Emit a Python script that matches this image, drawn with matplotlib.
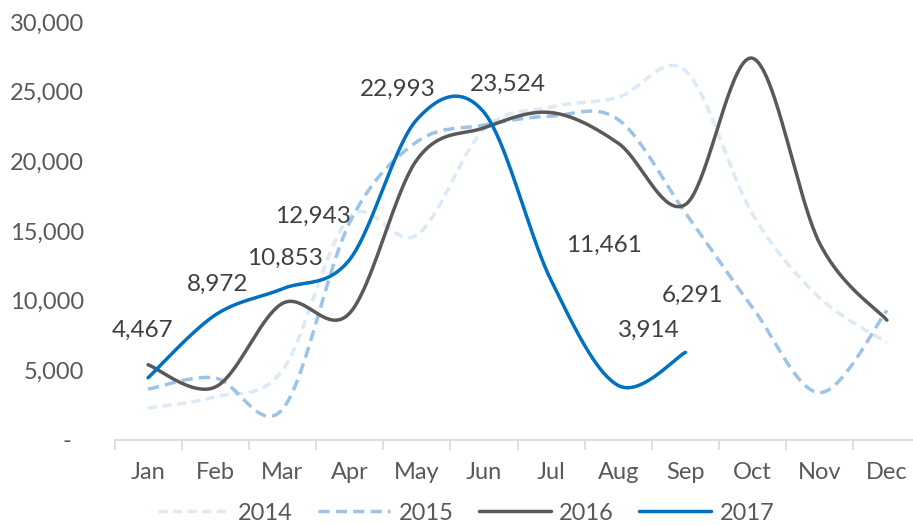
import numpy as np
import matplotlib
matplotlib.use("Agg")
import matplotlib.pyplot as plt
from matplotlib.ticker import FuncFormatter, FixedLocator

plt.rcParams['font.family'] = ['Lato', 'DejaVu Sans']

months = ["Jan", "Feb", "Mar", "Apr", "May", "Jun", "Jul", "Aug", "Sep", "Oct", "Nov", "Dec"]
s2014 = [2300, 3100, 5000, 16000, 14700, 22300, 23900, 24600, 26500, 16200, 10200, 7000]
s2015 = [3650, 4450, 2200, 15600, 21400, 22600, 23250, 23000, 16300, 9500, 3400, 9300]
s2016 = [5400, 3800, 9800, 9100, 20100, 22400, 23500, 21300, 16900, 27400, 14100, 8600]
s2017 = [4467, 8972, 10853, 12943, 22993, 23524, 11461, 3914, 6291]

# label offsets in points (layout only)
label_offsets = [(-4, 34), (2, 22), (2, 22), (-26, 31), (-14, 22), (17, 20), (38, 25), (22, 40), (5, 41)]


def smooth(y, n=40):
    """Excel-like smoothed line (Catmull-Rom Bezier)."""
    x = np.arange(len(y), dtype=float)
    y = np.asarray(y, dtype=float)
    P = np.column_stack([x, y])
    out = []
    for i in range(len(P) - 1):
        p0 = P[i - 1] if i > 0 else P[i]
        p1 = P[i]
        p2 = P[i + 1]
        p3 = P[i + 2] if i + 2 < len(P) else P[i + 1]
        c1 = p1 + (p2 - p0) / 6.0
        c2 = p2 - (p3 - p1) / 6.0
        t = np.linspace(0, 1, n, endpoint=(i == len(P) - 2))[:, None]
        seg = ((1 - t) ** 3) * p1 + 3 * ((1 - t) ** 2) * t * c1 + 3 * (1 - t) * t ** 2 * c2 + t ** 3 * p2
        out.append(seg)
    pts = np.vstack(out)
    return pts[:, 0], pts[:, 1]


W, H = 913, 525
fig = plt.figure(figsize=(W / 100, H / 100), dpi=100)
left, right = 114.5 / W, 920.5 / W
bottom, top = 1 - 440 / H, 1 - 22 / H
ax = fig.add_axes([left, bottom, right - left, top - bottom])

gray_text = "#595959"
series = [
    ("2014", s2014, "#DCE9F6", (0, (2.6, 1.6))),
    ("2015", s2015, "#9DC3E6", (0, (3.2, 1.8))),
    ("2016", s2016, "#595959", "-"),
    ("2017", s2017, "#0070C0", "-"),
]
for name, vals, col, ls in series:
    xs, ys = smooth(vals)
    ax.plot(xs, ys, color=col, lw=2.5, linestyle=ls, label=name,
            solid_capstyle="round", dash_capstyle="butt")

for i, v in enumerate(s2017):
    dx, dy = label_offsets[i]
    ax.annotate(f"{v:,}", (i, v), xytext=(dx, dy), textcoords="offset points",
                ha="center", va="center", fontsize=17.5, color="#404040")

ax.set_xlim(-0.5, 11.5)
ax.set_ylim(0, 30000)
ax.set_yticks(np.arange(0, 30001, 5000))
ax.yaxis.set_major_formatter(FuncFormatter(lambda v, p: "-  " if v == 0 else f"{int(v):,}"))
ax.set_xticks(np.arange(12))
ax.set_xticklabels(months)
ax.xaxis.set_minor_locator(FixedLocator(np.arange(-0.5, 12, 1.0)))

for sp in ["top", "right", "left"]:
    ax.spines[sp].set_visible(False)
ax.spines["bottom"].set_color("#D9D9D9")
ax.spines["bottom"].set_linewidth(1.2)

ax.tick_params(axis="y", length=0, pad=22, labelsize=17, labelcolor=gray_text)
ax.tick_params(axis="x", which="major", length=0, pad=16, labelsize=17, labelcolor=gray_text)
ax.tick_params(axis="x", which="minor", length=7, width=1.2, color="#D9D9D9")

leg = fig.legend(loc="center", bbox_to_anchor=(466 / W, 1 - 513 / H), ncol=4, frameon=False,
                 fontsize=17, handlelength=3.05, handletextpad=0.35, columnspacing=1.08,
                 labelcolor=gray_text)

fig.savefig("out.png", dpi=100)
